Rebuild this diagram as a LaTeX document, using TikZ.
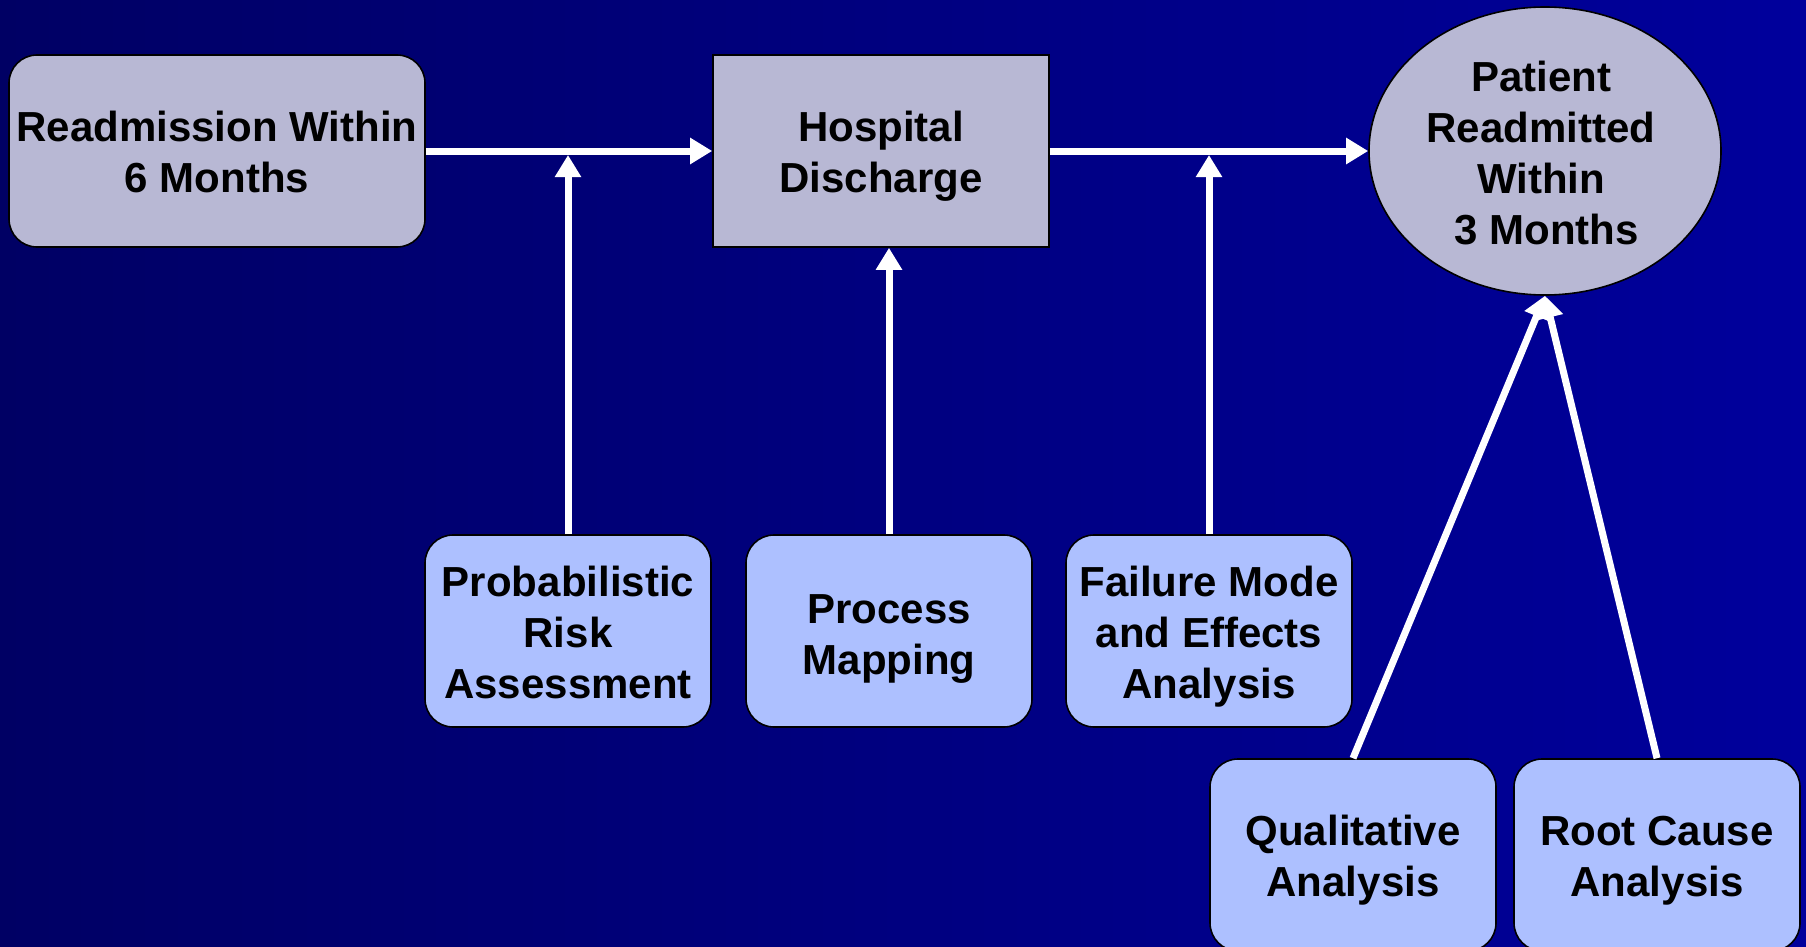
\documentclass[tikz,border=0pt]{standalone}
\usepackage{fontspec}
\setmainfont{Liberation Sans}
\usetikzlibrary{arrows.meta,shapes.geometric}
\definecolor{bgL}{RGB}{0,0,100}
\definecolor{bgR}{RGB}{0,0,156}
\definecolor{topfill}{RGB}{184,184,212}
\definecolor{botfill}{RGB}{173,192,255}
\newcommand{\lblfont}{\fontsize{42}{51}\selectfont\bfseries}
\newcommand{\dn}[1]{\rule{0pt}{#1}}
\begin{document}
\begin{tikzpicture}[x=1pt,y=-1pt,
  basebox/.style={draw=black,line width=1.6pt,inner sep=0pt,align=center,font=\lblfont,text=black},
  topround/.style={basebox,fill=topfill,rounded corners=28pt,minimum width=416pt,minimum height=192pt},
  topsquare/.style={basebox,fill=topfill,minimum width=336pt,minimum height=192pt},
  topoval/.style={basebox,fill=topfill,ellipse,minimum width=352pt,minimum height=288pt},
  method/.style={basebox,fill=botfill,rounded corners=28pt,minimum width=286pt,minimum height=192pt},
  lbl/.style={inner sep=0pt,align=center,font=\lblfont,text=black},
  arr/.style={draw=white,line width=7pt,-{Triangle[length=22pt,width=25pt]}}]
\clip (0,0) rectangle (1806,947);
\shade[left color=bgL,right color=bgR] (0,0) rectangle (1806,947);

\node[topround] (A) at (217,151) {\dn{33pt}Readmission Within\\6 Months};
\node[topsquare] (B) at (881,151) {\dn{41pt}Hospital\\Discharge};
\node[topoval] (C) at (1545,151) {};
\node[lbl] (Ct) at (1541,153) {Patient\\Readmitted\\Within\\\ 3 Months};

\node[method] (P) at (568,631) {\dn{33pt}Probabilistic\\Risk\\Assessment};
\node[method] (M) at (889,631) {\dn{45pt}Process\\Mapping};
\node[method] (F) at (1209,631) {\dn{41pt}Failure Mode\\and Effects\\Analysis};
\node[method] (Q) at (1353,855) {\dn{41pt}Qualitative\\Analysis};
\node[method] (R) at (1657,855) {\dn{41pt}Root Cause\\Analysis};

\coordinate (j1) at (568,155);
\coordinate (j2) at (1209,155);

\draw[arr] (A.east) -- (B.west);
\draw[arr] (B.east) -- (C.west);
\draw[arr] (P.north) -- (j1);
\draw[arr] (M.north) -- (M.north |- B.south);
\draw[arr] (F.north) -- (j2);
\draw[arr] (Q.north) -- (C.south);
\draw[arr] (R.north) -- (C.south);
\end{tikzpicture}
\end{document}
